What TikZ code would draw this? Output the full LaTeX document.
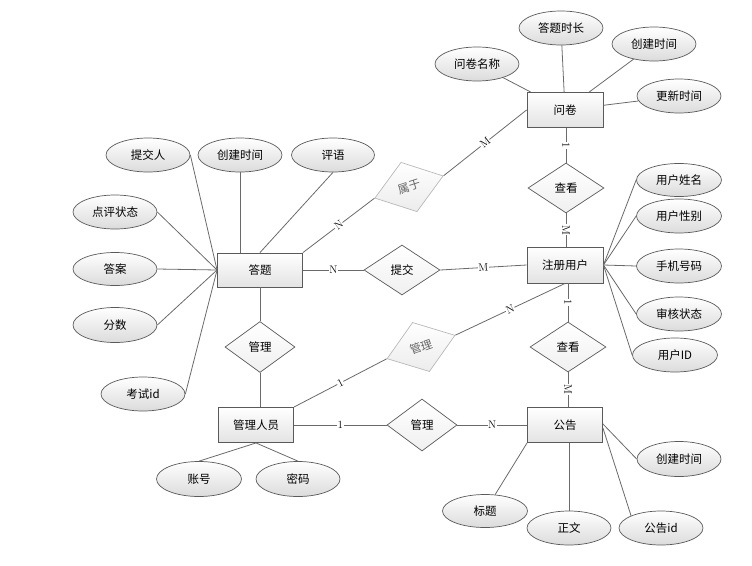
\documentclass[tikz,border=0pt]{standalone}
\usepackage{fontspec}
\newfontfamily\cjk{Noto Sans CJK SC}
\usetikzlibrary{shapes.geometric}
\definecolor{edge}{HTML}{5A5A5A}
\definecolor{ln}{HTML}{6A6A6A}
\tikzset{
  ent/.style={draw=edge, line width=0.9pt, rectangle, minimum width=76pt, minimum height=35pt, inner sep=0pt, top color=white, bottom color=gray!22, font=\cjk\fontsize{11.5}{13}\selectfont},
  attr/.style={draw=edge, line width=0.7pt, ellipse, minimum width=84pt, minimum height=34pt, inner sep=0pt, top color=white, bottom color=gray!28, font=\cjk\fontsize{11.5}{13}\selectfont},
  rel/.style={draw=edge, line width=0.7pt, diamond, minimum width=76pt, minimum height=50pt, inner sep=0pt, top color=white, bottom color=gray!12, font=\cjk\fontsize{11.5}{13}\selectfont},
  grel/.style={draw=gray!55, line width=0.7pt, diamond, minimum width=72pt, minimum height=52pt, inner sep=0pt, top color=white, bottom color=gray!15, text=gray!80!black, font=\cjk\fontsize{11.5}{13}\selectfont},
  conn/.style={draw=ln, line width=0.8pt},
  card/.style={fill=white, inner sep=0.6pt, font=\fontsize{11}{12}\selectfont, sloped, pos=0.5}
}
\begin{document}
\begin{tikzpicture}[x=1pt,y=-1pt]
\useasboundingbox (0,0) rectangle (752,565);
% entities
\node[ent] (wj) at (565,110) {问卷};
\node[ent, minimum height=36pt] (reg) at (565,265) {注册用户};
\node[ent, minimum width=85pt, minimum height=34pt] (dt) at (260,270) {答题};
\node[ent, minimum width=75pt] (admin) at (256,425) {管理人员};
\node[ent, minimum width=75pt] (gg) at (565,425) {公告};
% relations
\node[rel] (ck1) at (566,188) {查看};
\node[rel] (ck2) at (568,347) {查看};
\node[rel] (tj) at (402,270) {提交};
\node[rel, minimum width=70pt, minimum height=51pt] (gl1) at (260,347) {管理};
\node[rel, minimum width=70pt, minimum height=52pt] (gl2) at (422,425) {管理};
\node[grel, rotate=18] (sy) at (409,187) {属于};
\node[grel, rotate=19] (gl3) at (421,347) {管理};
% attributes of 问卷
\node[attr] (wjmc) at (477,64) {问卷名称};
\node[attr] (dtsc) at (561,28) {答题时长};
\node[attr] (wjcj) at (654,44) {创建时间};
\node[attr] (wjgx) at (679,96) {更新时间};
% attributes of 注册用户
\node[attr, minimum width=85pt, minimum height=33pt] (yhxm) at (679,180) {用户姓名};
\node[attr, minimum width=85pt] (yhxb) at (679,216) {用户性别};
\node[attr, minimum width=85pt] (sjhm) at (679,266) {手机号码};
\node[attr, minimum width=85pt] (shzt) at (679,314) {审核状态};
\node[attr, minimum width=85pt] (yhid) at (675,355) {用户ID};
% attributes of 答题
\node[attr] (tjr) at (148,155) {提交人};
\node[attr] (dtcj) at (240,155) {创建时间};
\node[attr, minimum width=83pt] (py) at (333,155) {评语};
\node[attr] (dpzt) at (115,212) {点评状态};
\node[attr, minimum height=33pt] (da) at (115,269) {答案};
\node[attr, minimum height=35pt] (fs) at (115,325) {分数};
\node[attr] (ksid) at (143,394) {考试id};
% attributes of 管理人员
\node[attr, minimum width=85pt, minimum height=35pt] (zh) at (199,479) {账号};
\node[attr, minimum height=35pt] (mm) at (298,479) {密码};
% attributes of 公告
\node[attr, minimum height=35pt] (ggcj) at (679,459) {创建时间};
\node[attr, minimum width=85pt, minimum height=33pt] (bt) at (485,511) {标题};
\node[attr] (zw) at (569,528) {正文};
\node[attr] (ggid) at (661,528) {公告id};
% attribute lines
\draw[conn] (wjmc) -- (wj);
\draw[conn] (dtsc) -- (wj);
\draw[conn] (wjcj) -- (wj);
\draw[conn] (wjgx) -- (wj);
\foreach \a in {yhxm,yhxb,sjhm,shzt,yhid} \draw[conn] (\a.west) -- (reg.east);
\foreach \a in {tjr,dpzt,da,fs,ksid} \draw[conn] (\a.east) -- (dt.west);
\draw[conn] (dtcj.south) -- (dtcj.south |- dt.north);
\draw[conn] (py.south) -- (dt.north);
\draw[conn] (zh.north) -- (admin.south);
\draw[conn] (mm.north) -- (admin.south);
\draw[conn] (bt) -- (gg.south west);
\draw[conn] (zw.north) -- (zw.north |- gg.south);
\draw[conn] (ggid.north west) -- ([yshift=-3pt]gg.east);
\draw[conn] (ggcj.west) -- ([yshift=1pt]gg.east);
% relation lines
\draw[conn] (wj.south -| ck1) -- node[card]{1} (ck1.north);
\draw[conn] (ck1.south) -- node[card]{M} (ck1.south |- reg.north);
\draw[conn] (ck2.north |- reg.south) -- node[card]{1} (ck2.north);
\draw[conn] (ck2.south) -- node[card]{M} (ck2.south |- gg.north);
\draw[conn] (dt.east) -- node[card]{N} (tj.west);
\draw[conn] (tj.east) -- node[card]{M} (reg.west);
\draw[conn] (dt.south) -- (gl1.north);
\draw[conn] (gl1.south) -- (gl1.south |- admin.north);
\draw[conn] (admin.east) -- node[card]{1} (gl2.west);
\draw[conn] (gl2.east) -- node[card]{N} (gg.west);
\draw[conn] (dt.north east) -- node[card]{N} (sy.west);
\draw[conn] (sy.east) -- node[card]{M} (wj.west);
\draw[conn] (admin.north east) -- node[card]{1} (gl3.west);
\draw[conn] (gl3.east) -- node[card]{N} (reg.south);
\end{tikzpicture}
\end{document}
